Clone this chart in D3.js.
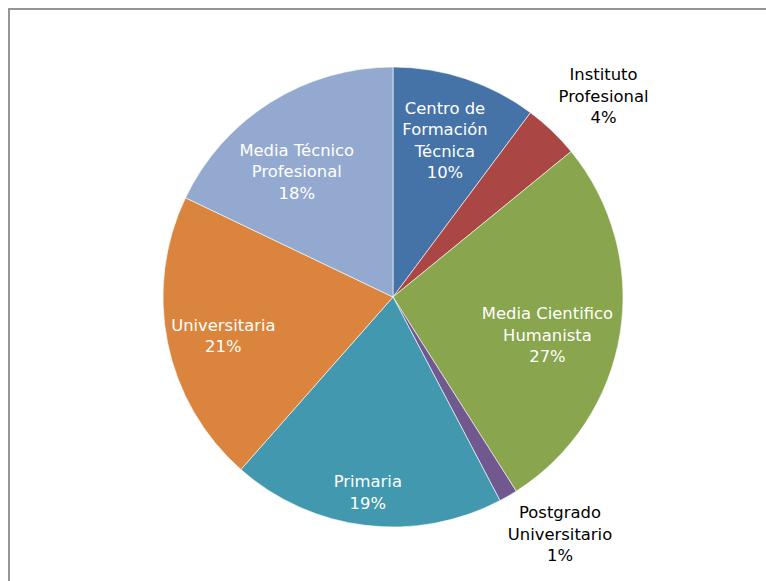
<!DOCTYPE html>
<html>
<head>
<meta charset="utf-8">
<script src="https://cdn.jsdelivr.net/npm/d3@7"></script>
<style>
  html, body { margin: 0; padding: 0; background: #fff; }
  svg { display: block; }
</style>
</head>
<body>
<svg id="chart" width="766" height="581"></svg>
<script>
// Data
const categories = [
  "Centro de Formación Técnica",
  "Instituto Profesional",
  "Media Cientifico Humanista",
  "Postgrado Universitario",
  "Primaria",
  "Universitaria",
  "Media Técnico Profesional"
];
const labelLines = [
  ["Centro de", "Formación", "Técnica"],
  ["Instituto", "Profesional"],
  ["Media Cientifico", "Humanista"],
  ["Postgrado", "Universitario"],
  ["Primaria"],
  ["Universitaria"],
  ["Media Técnico", "Profesional"]
];
const values = [10.2, 3.9, 26.9, 1.3, 19.2, 20.6, 17.9];
const colors = ["#4572A7", "#AA4643", "#89A54E", "#71588F", "#4198AF", "#DB843D", "#93A9CF"];
const labelInside = [true, false, true, false, true, true, true];
// label placement (radius in px, angle nudge in degrees)
const labelRadius = [165, 291, 159, 290, 197, 174, 158];
const labelNudge = [0, 2.6, 4.6, -5.1, 0.5, -1.3, -5.3];

const svg = d3.select("#chart");
const W = 766, H = 581;
const cx = 393, cy = 297, R = 230;

// frame
svg.append("rect")
  .attr("x", 9).attr("y", 9)
  .attr("width", W + 20).attr("height", H + 20)
  .attr("fill", "none")
  .attr("stroke", "#8a8a8a")
  .attr("stroke-width", 1.8);

const data = categories.map((c, i) => ({ name: c, value: values[i], i }));
const pie = d3.pie().sort(null).value(d => d.value);
const arcs = pie(data);
const arc = d3.arc().innerRadius(0).outerRadius(R);

const g = svg.append("g").attr("transform", `translate(${cx},${cy})`);
g.selectAll("path.slice")
  .data(arcs)
  .join("path")
  .attr("class", "slice")
  .attr("d", arc)
  .attr("fill", d => colors[d.data.i])
  .attr("stroke", "#ffffff")
  .attr("stroke-width", 0.6);

const fmt = v => Math.round(v) + "%";
const lineH = 21.5;
const labels = g.selectAll("text.lbl")
  .data(arcs)
  .join("text")
  .attr("class", "lbl")
  .attr("text-anchor", "middle")
  .attr("font-family", "'DejaVu Sans', sans-serif")
  .attr("font-size", 16.4)
  .attr("fill", d => labelInside[d.data.i] ? "#ffffff" : "#000000")
  .attr("transform", d => {
    const i = d.data.i;
    const a = (d.startAngle + d.endAngle) / 2 + labelNudge[i] * Math.PI / 180;
    const r = labelRadius[i];
    return `translate(${r * Math.sin(a)},${-r * Math.cos(a)})`;
  });

labels.each(function(d) {
  const i = d.data.i;
  const lines = labelLines[i].concat([fmt(values[i])]);
  const n = lines.length;
  const t = d3.select(this);
  lines.forEach((ln, k) => {
    t.append("tspan")
      .attr("x", 0)
      .attr("y", (k - (n - 1) / 2) * lineH)
      .attr("dy", "0.35em")
      .text(ln);
  });
});
</script>
</body>
</html>
